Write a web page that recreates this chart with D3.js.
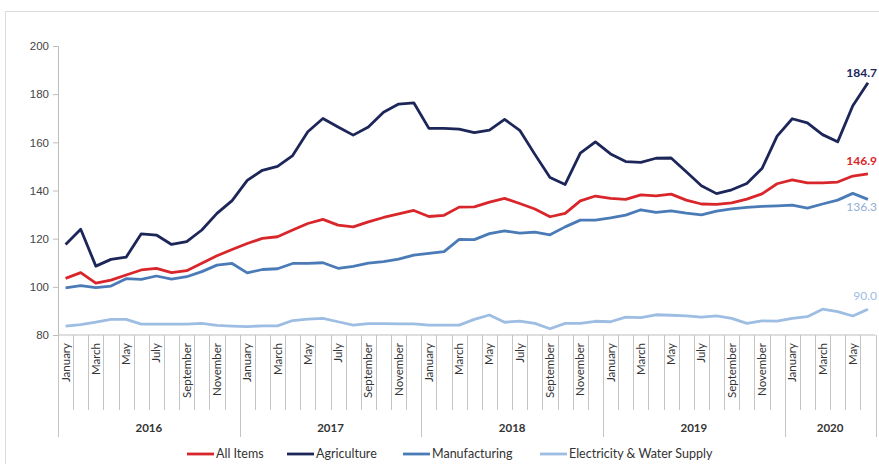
<!DOCTYPE html>
<html>
<head>
<meta charset="utf-8">
<script src="https://cdn.jsdelivr.net/npm/d3@7"></script>
<style>
  html, body { margin: 0; padding: 0; background: #fff; }
  svg { display: block; font-family: Lato, "Open Sans", sans-serif; }
</style>
</head>
<body>
<svg id="chart" width="879" height="464"></svg>
<script>
const years = ["2016", "2017", "2018", "2019", "2020"];
const monthNames = ["January","February","March","April","May","June","July","August","September","October","November","December"];
const yTicks = [80, 100, 120, 140, 160, 180, 200];

const seriesNames = ["All Items", "Agriculture", "Manufacturing", "Electricity & Water Supply"];
const seriesColors = ["#d9262b", "#1c2659", "#4a7bb7", "#9dbde3"];

const allItems = [103.5,105.9,101.5,102.8,104.9,107.0,107.7,105.9,106.7,109.8,112.9,115.5,
  118.0,120.1,120.8,123.6,126.3,128.0,125.6,124.9,127.0,128.8,130.3,131.7,
  129.2,129.7,133.1,133.2,135.2,136.7,134.6,132.3,129.1,130.5,135.7,137.7,
  136.7,136.3,138.2,137.8,138.5,136.0,134.4,134.2,134.9,136.4,138.6,142.8,
  144.4,143.2,143.2,143.5,146.0,146.9];
const agriculture = [117.6,123.9,108.6,111.4,112.3,122.0,121.5,117.6,118.8,123.6,130.5,135.8,
  144.2,148.4,150.0,154.5,164.4,169.9,166.4,163.0,166.4,172.5,175.9,176.4,
  165.8,165.8,165.5,164.0,165.1,169.5,165.0,155.0,145.4,142.5,155.5,160.2,
  155.2,152.0,151.7,153.4,153.5,147.8,142.0,138.7,140.3,142.9,149.1,162.6,
  169.8,168.1,163.2,160.2,175.2,184.7];
const manufacturing = [99.6,100.5,99.7,100.3,103.4,103.1,104.5,103.2,104.2,106.3,109.0,109.7,
  105.8,107.2,107.5,109.7,109.7,110.0,107.7,108.5,109.8,110.5,111.5,113.2,
  113.9,114.6,119.7,119.6,122.1,123.2,122.3,122.7,121.6,124.9,127.7,127.7,
  128.6,129.8,132.0,130.9,131.5,130.6,129.9,131.4,132.4,133.0,133.4,133.6,
  133.9,132.7,134.4,136.0,138.8,136.3];
const electricity = [83.7,84.3,85.3,86.5,86.5,84.5,84.5,84.5,84.5,84.8,84.0,83.7,
  83.5,83.8,83.8,86.0,86.6,86.9,85.5,84.1,84.7,84.7,84.6,84.6,
  84.1,84.1,84.1,86.5,88.3,85.3,85.8,84.8,82.6,84.8,84.8,85.7,
  85.5,87.4,87.2,88.4,88.2,87.9,87.4,87.9,86.9,84.8,85.9,85.8,
  86.9,87.6,90.7,89.7,87.9,90.7];
const endLabels = ["146.9", "184.7", "136.3", "90.0"];

const months = [];
years.forEach(yr => monthNames.forEach(m => months.push(yr + "-" + m)));
const dataMonths = months.slice(0, allItems.length);
const allSeries = [allItems, agriculture, manufacturing, electricity];

const svg = d3.select("#chart");

// frame
svg.append("rect").attr("x", 5.5).attr("y", 11.5).attr("width", 900).attr("height", 500)
  .attr("fill", "none").attr("stroke", "#dcdcdc");

const pLeft = 58, pRight = 875.5, pTop = 46, pBottom = 335;
const x = d3.scaleBand().domain(dataMonths).range([pLeft, pRight]).padding(0);
const y = d3.scaleLinear().domain([80, 200]).range([pBottom, pTop]);

// y axis
const yAxis = d3.axisLeft(y).tickValues(yTicks).tickSize(5).tickFormat(d3.format("d"));
const yg = svg.append("g").attr("transform", `translate(${pLeft},0)`).call(yAxis);
yg.select(".domain").attr("stroke", "#bdbdbd");
yg.selectAll(".tick line").attr("stroke", "#bdbdbd");
yg.selectAll(".tick text").attr("fill", "#444").attr("font-size", 11.5).attr("x", -9);

// x axis baseline
svg.append("line").attr("x1", pLeft).attr("x2", pRight).attr("y1", pBottom).attr("y2", pBottom)
  .attr("stroke", "#bdbdbd");

// month boundary lines
const bw = x.bandwidth();
const bounds = dataMonths.map(m => x(m)).concat([pRight]);
svg.append("g").selectAll("line").data(bounds).join("line")
  .attr("x1", d => Math.round(d) + 0.5).attr("x2", d => Math.round(d) + 0.5)
  .attr("y1", pBottom)
  .attr("y2", (d, i) => (i % 12 === 0 || i === bounds.length - 1) ? 437 : 410)
  .attr("stroke", "#c4c4c4");

// month labels (every other month)
svg.append("g").selectAll("text")
  .data(dataMonths.filter((m, i) => i % 2 === 0))
  .join("text")
  .attr("transform", d => `translate(${x(d) + bw / 2},${pBottom + 8}) rotate(-90)`)
  .attr("text-anchor", "end").attr("dy", "0.35em")
  .attr("font-size", 11.5).attr("fill", "#333")
  .text(d => d.split("-")[1]);

// year labels
svg.append("g").selectAll("text").data(years).join("text")
  .attr("x", yr => {
    const ms = dataMonths.filter(m => m.startsWith(yr));
    return (x(ms[0]) + x(ms[ms.length - 1]) + bw) / 2;
  })
  .attr("y", 428).attr("dy", "0.35em").attr("text-anchor", "middle")
  .attr("font-size", 11.5).attr("font-weight", "bold").attr("fill", "#333")
  .text(d => d);

// lines
const line = d3.line().x((d, i) => x(dataMonths[i]) + bw / 2).y(d => y(d));
const drawOrder = [3, 2, 0, 1];
drawOrder.forEach(k => {
  svg.append("path").datum(allSeries[k])
    .attr("fill", "none").attr("stroke", seriesColors[k])
    .attr("stroke-width", 2.8).attr("stroke-linejoin", "round")
    .attr("d", line);
});

// end labels (right-aligned so they stay inside the picture)
const labelColors = ["#d9262b", "#1c2659", "#8eaed6", "#9dbde3"];
const labelDy = [-9, -6, 12, -9];
const labelBold = ["bold", "bold", "normal", "normal"];
allSeries.forEach((s, k) => {
  const last = s.length - 1;
  svg.append("text")
    .attr("x", 877).attr("text-anchor", "end")
    .attr("y", y(s[last]) + labelDy[k])
    .attr("font-size", 12).attr("font-weight", labelBold[k])
    .attr("fill", labelColors[k])
    .text(endLabels[k]);
});

// legend
const legendX = [187, 287, 403, 540];
const lg = svg.append("g");
seriesNames.forEach((n, k) => {
  lg.append("line").attr("x1", legendX[k]).attr("x2", legendX[k] + 27)
    .attr("y1", 454).attr("y2", 454).attr("stroke", seriesColors[k]).attr("stroke-width", 2.8);
  lg.append("text").attr("x", legendX[k] + 29).attr("y", 454).attr("dy", "0.35em")
    .attr("font-size", 12.5).attr("fill", "#333").text(n);
});
</script>
</body>
</html>
